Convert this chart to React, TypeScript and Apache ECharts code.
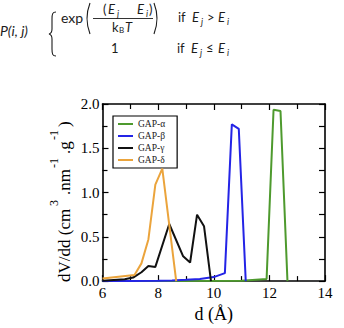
import { useEffect, useRef } from "react";
import * as echarts from "echarts";

// Pore size distributions, [d (Å), dV/dd]
const seriesNames = ["GAP-α", "GAP-β", "GAP-γ", "GAP-δ"];
const seriesColors = ["#4e9a2e", "#2424e6", "#111111", "#eba43c"];

const gapAlpha: [number, number][] = [
  [6.0, 0.0], [11.0, 0.004], [11.9, 0.025], [12.15, 1.935], [12.4, 1.92], [12.65, 0.0],
];
const gapBeta: [number, number][] = [
  [6.0, 0.0], [7.0, 0.002], [8.0, 0.005], [8.5, 0.008], [9.0, 0.014], [9.5, 0.025],
  [10.0, 0.045], [10.4, 0.09], [10.65, 1.77], [10.9, 1.72], [11.15, 0.0],
];
const gapGamma: [number, number][] = [
  [6.0, 0.005], [6.8, 0.02], [7.1, 0.04], [7.4, 0.1], [7.65, 0.17], [7.9, 0.16],
  [8.4, 0.645], [8.9, 0.28], [9.15, 0.21], [9.4, 0.75], [9.65, 0.62], [9.9, 0.0],
];
const gapDelta: [number, number][] = [
  [6.0, 0.03], [7.15, 0.07], [7.4, 0.2], [7.65, 0.47], [7.9, 1.09], [8.15, 1.27], [8.65, 0.0],
];
const seriesData = [gapAlpha, gapBeta, gapGamma, gapDelta];

const xTicks = { min: 6, max: 14, step: 2 };
const yTicks = { min: 0, max: 2, step: 0.5 };

const SERIF = "Liberation Serif";
const SANS = "Lato";
const INK = "#1c1c1c";

// curly brace and the large parentheses of the formula
echarts.graphic.registerShape(
  "brace",
  echarts.graphic.extendPath(
    "M56,12 C52.5,12 52,14 52,19 L52,29 C52,32 51,33.5 49,34 C51,34.5 52,36 52,39 L52,49 C52,54 52.5,56 56,56",
    {}
  )
);
echarts.graphic.registerShape(
  "parens",
  echarts.graphic.extendPath("M90,3 Q84,18.5 90,34 M154,3 Q160,18.5 154,34", {})
);

function txt(x: number, y: number, text: string, size: number, opts: any = {}) {
  return {
    type: "text",
    x,
    y,
    silent: true,
    style: {
      text,
      fontSize: size,
      fontFamily: opts.family || SANS,
      fontStyle: opts.italic ? "italic" : "normal",
      fill: opts.fill || INK,
      align: opts.align || "left",
      verticalAlign: "middle",
    },
  };
}

export default function App() {
  const ref = useRef<HTMLDivElement>(null);

  useEffect(() => {
    if (!ref.current) return;
    const chart = echarts.init(ref.current, undefined, { renderer: "svg" });

    const formula = [
      txt(0, 30, "P(i, j)", 14, { italic: true }),
      { type: "brace", silent: true, style: { stroke: INK, fill: "none", lineWidth: 1.1 } },
      txt(61, 17, "exp", 14),
      { type: "parens", silent: true, style: { stroke: INK, fill: "none", lineWidth: 1.1 } },
      txt(103, 9, "(", 13),
      txt(108, 9, "E", 13, { italic: true }),
      txt(117, 13, "j", 9, { italic: true }),
      txt(137, 9, "E", 13, { italic: true }),
      txt(146, 13, "i", 9, { italic: true }),
      txt(149, 9, ")", 13),
      {
        type: "line",
        silent: true,
        shape: { x1: 93, y1: 18.5, x2: 153, y2: 18.5 },
        style: { stroke: INK, lineWidth: 0.9 },
      },
      txt(112, 27, "k", 13),
      txt(119, 30, "B", 8),
      txt(125, 27, "T", 13, { italic: true }),
      txt(178, 17, "if", 13),
      txt(192, 17, "E", 13, { italic: true }),
      txt(201, 21, "j", 9, { italic: true }),
      txt(207, 17, ">", 13),
      txt(218, 17, "E", 13, { italic: true }),
      txt(227, 21, "i", 9, { italic: true }),
      txt(111, 48, "1", 13),
      txt(177, 48, "if", 13),
      txt(191, 48, "E", 13, { italic: true }),
      txt(200, 52, "j", 9, { italic: true }),
      txt(206, 48, "≤", 13),
      txt(218, 48, "E", 13, { italic: true }),
      txt(227, 52, "i", 9, { italic: true }),
    ];

    // rotated y-axis title with raised exponents
    const yTitle = {
      type: "group",
      x: 64,
      y: 282,
      rotation: Math.PI / 2,
      children: [
        txt(0, 0, "dV/dd (cm", 17, { family: SERIF, fill: "#000" }),
        txt(76, -10, "3", 12, { family: SERIF, fill: "#000" }),
        txt(87, 0, ".nm", 17, { family: SERIF, fill: "#000" }),
        txt(114, -10, "-1", 12, { family: SERIF, fill: "#000" }),
        txt(128, 0, ".g", 17, { family: SERIF, fill: "#000" }),
        txt(142, -10, "-1", 12, { family: SERIF, fill: "#000" }),
        txt(155, 0, ")", 17, { family: SERIF, fill: "#000" }),
      ],
    };

    const tickStyle = (len: number) => ({ show: true, inside: true, length: len, lineStyle: { color: "#000", width: 1.2 } });
    const lineStyleAxis = { show: true, onZero: false, lineStyle: { color: "#000", width: 1.6 } };
    const labelFont = { fontFamily: SERIF, fontSize: 15, color: "#000" };

    chart.setOption({
      animation: false,
      backgroundColor: "#fff",
      textStyle: { fontFamily: SERIF },
      grid: { left: 102.5, right: 19, top: 104, bottom: 39, containLabel: false },
      legend: {
        orient: "vertical",
        left: 113,
        top: 116,
        data: seriesNames,
        icon: "rect",
        itemWidth: 15,
        itemHeight: 2,
        itemGap: 2,
        padding: [3, 12, 3, 5],
        borderColor: "#000",
        borderWidth: 1.2,
        backgroundColor: "#fff",
        textStyle: { fontFamily: SERIF, fontSize: 9.5, color: "#222", lineHeight: 9 },
      },
      xAxis: [
        {
          type: "value",
          min: xTicks.min,
          max: xTicks.max,
          interval: xTicks.step,
          name: "d (Å)",
          nameLocation: "middle",
          nameGap: 20,
          nameTextStyle: { fontFamily: SERIF, fontSize: 18, color: "#000" },
          axisLine: lineStyleAxis,
          axisTick: tickStyle(6),
          minorTick: { show: true, splitNumber: 2, length: 5, lineStyle: { color: "#000", width: 1.2 } },
          splitLine: { show: false },
          axisLabel: { ...labelFont, margin: 4 },
        },
        {
          type: "value",
          position: "top",
          min: xTicks.min,
          max: xTicks.max,
          interval: xTicks.step,
          axisLine: lineStyleAxis,
          axisTick: tickStyle(6),
          minorTick: { show: true, splitNumber: 2, length: 5, lineStyle: { color: "#000", width: 1.2 } },
          splitLine: { show: false },
          axisLabel: { show: false },
        },
      ],
      yAxis: [
        {
          type: "value",
          min: yTicks.min,
          max: yTicks.max,
          interval: yTicks.step,
          axisLine: lineStyleAxis,
          axisTick: tickStyle(6),
          minorTick: { show: true, splitNumber: 2, length: 5, lineStyle: { color: "#000", width: 1.2 } },
          splitLine: { show: false },
          axisLabel: {
            ...labelFont,
            margin: 3,
            formatter: (v: number) => v.toFixed(1),
          },
        },
        {
          type: "value",
          position: "right",
          min: yTicks.min,
          max: yTicks.max,
          interval: yTicks.step,
          axisLine: lineStyleAxis,
          axisTick: tickStyle(6),
          minorTick: { show: true, splitNumber: 2, length: 6, lineStyle: { color: "#000", width: 1.2 } },
          splitLine: { show: false },
          axisLabel: { show: false },
        },
      ],
      series: seriesNames.map((name, i) => ({
        name,
        type: "line",
        data: seriesData[i],
        xAxisIndex: 0,
        yAxisIndex: 0,
        showSymbol: false,
        symbol: "none",
        color: seriesColors[i],
        lineStyle: { color: seriesColors[i], width: 2 },
        z: 2 + i,
      })),
      graphic: [...formula, yTitle],
    });

    return () => chart.dispose();
  }, []);

  return (
    <div
      ref={ref}
      style={{ position: "fixed", left: 0, top: 0, width: 344, height: 328, background: "#fff" }}
    />
  );
}
